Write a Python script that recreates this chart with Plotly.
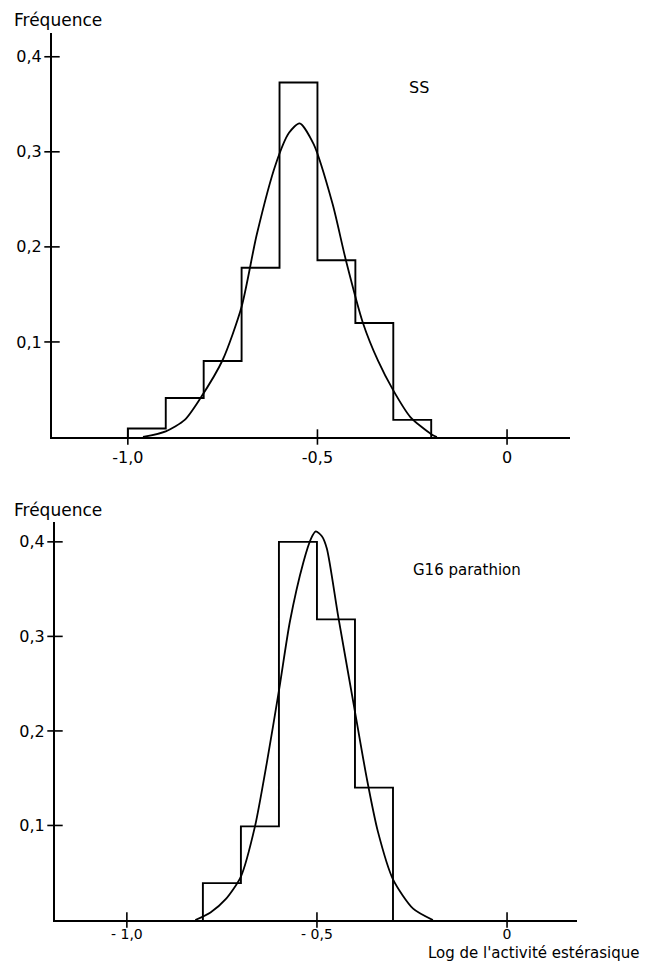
import plotly.graph_objects as go

# ---------------- data ----------------
# Top panel : SS
bin_edges_ss = [-1.0, -0.9, -0.8, -0.7, -0.6, -0.5, -0.4, -0.3, -0.2]
freq_ss = [0.009, 0.041, 0.080, 0.178, 0.373, 0.186, 0.120, 0.018]
curve_ss_x = [-0.96, -0.90, -0.85, -0.81, -0.75, -0.70, -0.66, -0.61, -0.575, -0.547,
              -0.51, -0.46, -0.425, -0.38, -0.34, -0.30, -0.255, -0.20, -0.185]
curve_ss_y = [0.0, 0.006, 0.018, 0.040, 0.081, 0.137, 0.213, 0.287, 0.320, 0.330,
              0.308, 0.245, 0.186, 0.120, 0.080, 0.049, 0.021, 0.003, 0.0]

# Bottom panel : G16 parathion
bin_edges_g16 = [-0.8, -0.7, -0.6, -0.5, -0.4, -0.3]
freq_g16 = [0.039, 0.099, 0.400, 0.318, 0.140]
curve_g16_x = [-0.82, -0.78, -0.74, -0.70, -0.663, -0.632, -0.599, -0.571, -0.536, -0.515,
               -0.503, -0.487, -0.474, -0.444, -0.402, -0.369, -0.340, -0.30, -0.247, -0.195]
curve_g16_y = [0.0, 0.008, 0.022, 0.046, 0.099, 0.166, 0.245, 0.316, 0.378, 0.404,
               0.411, 0.406, 0.393, 0.321, 0.225, 0.150, 0.094, 0.043, 0.012, 0.0]

y_tickvals = [0.1, 0.2, 0.3, 0.4]
y_ticktext = ["0,1", "0,2", "0,3", "0,4"]
x_tickvals = [-1.0, -0.5, 0.0]
x_ticktext_top = ["-1,0", "-0,5", "0"]
x_ticktext_bot = ["- 1,0", "- 0,5", "0"]

label_y = "Fréquence"
label_x = "Log de l'activité estérasique"
name_top = "SS"
name_bot = "G16 parathion"

W, H = 645, 963
FONT = "DejaVu Sans"
INK = "black"

x_range_top = [-1.2, 0.166]
x_range_bot = [-1.189, 0.184]
y_range_top = [0, 0.425]
y_range_bot = [0, 0.421]


def step_xy(edges, heights):
    xs = [edges[0]] + edges[:-1] + [edges[-1]]
    ys = [0] + heights + [0]
    return xs, ys


fig = go.Figure()

panels = [
    ("x", "y", bin_edges_ss, freq_ss, curve_ss_x, curve_ss_y, x_range_top),
    ("x2", "y2", bin_edges_g16, freq_g16, curve_g16_x, curve_g16_y, x_range_bot),
]

for xa, ya, edges, freqs, cx, cy, xr in panels:
    hx, hy = step_xy(edges, freqs)
    fig.add_trace(go.Scatter(x=hx, y=hy, xaxis=xa, yaxis=ya, mode="lines",
                             line=dict(color=INK, width=1.9, shape="hv"),
                             showlegend=False, hoverinfo="skip"))
    fig.add_trace(go.Scatter(x=cx, y=cy, xaxis=xa, yaxis=ya, mode="lines",
                             line=dict(color=INK, width=1.8, shape="spline", smoothing=0.7),
                             showlegend=False, hoverinfo="skip"))
    # crossing tick marks on y axis
    fig.add_trace(go.Scatter(x=[xr[0]] * len(y_tickvals), y=y_tickvals, xaxis=xa, yaxis=ya,
                             mode="markers", cliponaxis=False,
                             marker=dict(symbol="line-ew", size=11,
                                         line=dict(color=INK, width=1.6)),
                             showlegend=False, hoverinfo="skip"))
    # crossing tick marks on x axis
    fig.add_trace(go.Scatter(x=x_tickvals, y=[0] * len(x_tickvals), xaxis=xa, yaxis=ya,
                             mode="markers", cliponaxis=False,
                             marker=dict(symbol="line-ns", size=11,
                                         line=dict(color=INK, width=1.6)),
                             showlegend=False, hoverinfo="skip"))

axis_common = dict(showline=True, linecolor=INK, linewidth=2, showgrid=False,
                   zeroline=False, ticks="", automargin=False)

fig.update_layout(
    width=W, height=H,
    margin=dict(l=0, r=0, t=0, b=0, autoexpand=False),
    paper_bgcolor="white", plot_bgcolor="white",
    font=dict(family=FONT, color=INK),
    xaxis=dict(domain=[52 / W, 570 / W], range=x_range_top, anchor="y",
               tickvals=x_tickvals, ticktext=x_ticktext_top, ticklabelstandoff=5,
               tickfont=dict(family=FONT, size=16, color=INK), **axis_common),
    yaxis=dict(domain=[1 - 437 / H, 1 - 33 / H], range=y_range_top, anchor="x",
               tickvals=y_tickvals, ticktext=y_ticktext, ticklabelstandoff=5,
               tickfont=dict(family=FONT, size=16, color=INK), **axis_common),
    xaxis2=dict(domain=[55 / W, 577 / W], range=x_range_bot, anchor="y2",
                tickvals=x_tickvals, ticktext=x_ticktext_bot, ticklabelstandoff=0,
                tickfont=dict(family=FONT, size=14, color=INK), **axis_common),
    yaxis2=dict(domain=[1 - 920 / H, 1 - 522 / H], range=y_range_bot, anchor="x2",
                tickvals=y_tickvals, ticktext=y_ticktext, ticklabelstandoff=5,
                tickfont=dict(family=FONT, size=16, color=INK), **axis_common),
    annotations=[
        dict(text=label_y, xref="paper", yref="paper", x=12 / W, y=1 - 20 / H,
             xanchor="left", yanchor="middle", showarrow=False,
             font=dict(family=FONT, size=17, color=INK)),
        dict(text=label_y, xref="paper", yref="paper", x=12 / W, y=1 - 510 / H,
             xanchor="left", yanchor="middle", showarrow=False,
             font=dict(family=FONT, size=17, color=INK)),
        dict(text=name_top, xref="paper", yref="paper", x=419 / W, y=1 - 88 / H,
             xanchor="center", yanchor="middle", showarrow=False,
             font=dict(family=FONT, size=16, color=INK)),
        dict(text=name_bot, xref="paper", yref="paper", x=467 / W, y=1 - 570 / H,
             xanchor="center", yanchor="middle", showarrow=False,
             font=dict(family=FONT, size=15, color=INK)),
        dict(text=label_x, xref="paper", yref="paper", x=642 / W, y=1 - 953 / H,
             xanchor="right", yanchor="middle", showarrow=False,
             font=dict(family=FONT, size=15, color=INK)),
    ],
)

fig.write_html("out.html", config={"displayModeBar": False},
               post_script="document.body.style.margin='0px';document.body.style.overflow='hidden';")
